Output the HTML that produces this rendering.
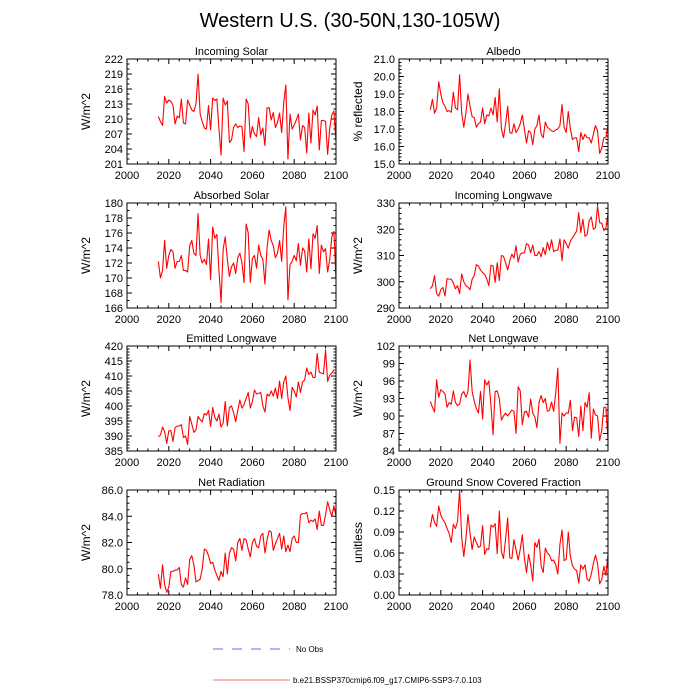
<!DOCTYPE html>
<html><head><meta charset="utf-8"><style>
body{margin:0;background:#fff;}
svg{display:block;font-family:"Liberation Sans",sans-serif;}
</style></head><body>
<svg id="chart" width="700" height="700" viewBox="0 0 700 700">
<text x="350" y="27" text-anchor="middle" font-size="20">Western U.S. (30-50N,130-105W)</text>
<g>
<line x1="213" y1="649" x2="290" y2="649" stroke="#6a6aff" stroke-dasharray="10,9" stroke-width="1"/>
<text x="296" y="652" font-size="8">No Obs</text>
<line x1="213" y1="680" x2="290" y2="680" stroke="#ff7070" stroke-width="1"/>
<text x="293" y="683" font-size="8">b.e21.BSSP370cmip6.f09_g17.CMIP6-SSP3-7.0.103</text>
</g>
</svg>
<script>
const startYear = 2015;
const xTicks = [2000, 2020, 2040, 2060, 2080, 2100];
const incomingSolar = [210.5,209.5,208.7,214.5,213.2,213.8,213.5,212.8,209,210.6,210.2,214,209.2,209,213.8,212.8,211.8,211.5,213,219,211,209.5,208.2,208,212.7,207.8,214.2,213.7,214,208,202.8,214.2,212.8,213.6,205.3,205.8,208.3,209,208.3,208.6,208.5,203.5,214,213,206.2,208.5,207,206.5,210.3,206.8,208.2,204.7,212.2,212.3,209.8,211.3,208.3,209.3,211.2,207.3,213.3,216.8,202,211,208,208.8,209.8,211,205.8,208.7,208.3,203.2,211.2,205.2,211.8,210.8,212.6,203.8,209.7,209.7,209.5,202.9,208.2,210.8,211.6,205.5];
const albedo = [18.1,18.7,17.9,18.2,19.7,19.0,18.5,18.3,18.0,18.05,17.95,19.1,18.2,18.1,20.1,17.9,17.1,17.9,19.0,18.3,17.7,17.65,17.1,17.3,17.4,18.2,17.3,17.8,17.75,18.2,17.8,18.8,17.4,19.3,17.0,16.5,17.3,18.3,16.8,16.75,17.3,16.8,17.0,17.3,17.8,17.0,16.2,16.9,16.8,16.1,17.0,17.2,17.8,16.7,16.5,17.4,17.1,17.0,16.9,16.85,16.95,17.0,17.2,18.4,17.1,16.8,18.0,17.0,16.4,16.5,16.5,15.7,16.8,16.4,16.7,16.5,16.5,16.2,16.7,17.2,16.9,15.6,15.9,16.5,16.5,17.3];
const absorbedSolar = [172.2,170.0,171.0,175.0,171.3,173.0,173.8,173.5,171.3,172.2,172.2,173.0,171.0,171.0,170.8,174.3,175.0,173.3,173.0,178.6,173.0,172.0,172.5,171.8,175.2,169.8,176.8,175.3,175.8,171.0,166.7,173.8,175.5,172.5,170.2,171.5,172.0,170.6,172.7,173.3,172.0,169.4,177.2,176.0,169.4,172.6,173.0,171.3,174.4,173.0,172.5,169.2,174.0,176.4,175.0,174.3,172.7,173.3,175.0,172.2,176.9,179.5,167.1,171.8,172.2,173.0,172.3,174.6,171.7,174.0,173.6,170.8,175.2,171.2,175.9,175.3,177.0,170.6,174.4,173.5,173.9,170.8,172.5,175.5,176.2,169.8];
const incomingLW = [297.3,298.5,302.3,295.5,294.5,297,297.8,294.6,301.2,301,301,299.5,297.3,298.5,295.5,303,300,298.5,298,297,301,302.3,306.5,306,304.5,303.5,302.8,301,298.5,306.3,306,299.8,307.2,300.5,310,309.7,307.2,304.5,308,310.5,309,313.7,307.5,310.5,311,311,314.5,314,311,314,310,310,311.5,309.5,313,310.3,315,312,316,311.5,312,312,316.3,308,316,314.5,312.8,315.5,316.8,318,319.3,326.3,318.8,323.8,317.3,318,323.3,324.7,320,320.5,328.8,322.5,322.3,319.5,320.5,326];
const emittedLW = [389.8,390.3,393,391.5,387.5,391.7,391.8,388.2,392.8,393.3,393.3,393.8,389.5,390,387.2,396.5,394,391.2,392,396.5,395.5,394.7,397.5,397,398.5,393.2,399.5,396.2,395,397.3,393,394.3,401.5,393.3,399.5,400,397.8,394.8,398.5,402,399.3,400.5,402.5,404.5,399.3,401.5,405.3,404,404.2,404.5,400,398,404,403.3,405,403.3,406,402.5,408.3,402.5,408,410,402.8,398.5,406.2,405,403,408,404.5,408,408.7,412.7,410.5,411.3,409.5,409.5,417.5,411.2,411,410.7,418.7,408.2,410.3,411,412,412];
const netLW = [92.5,91.5,90.7,96.2,93.2,94.5,94.2,93.8,91.5,92.3,92.0,94.3,92.3,91.8,92.0,93.8,94.2,93.2,94.2,99.6,94.2,92.5,91.3,90.5,94.2,89.5,96.2,95.3,96.0,91.8,86.8,94.2,94.3,93.0,89.3,90.0,90.5,90.0,90.5,91.0,90.8,87.0,95.0,94.3,88.5,90.7,90.8,89.8,92.9,90.5,89.8,88.0,92.3,93.5,92.3,93.0,90.8,91.0,92.4,90.8,94.0,98.2,85.3,90.5,90.0,90.5,90.5,92.7,87.5,89.8,89.7,86.5,91.7,87.5,92.3,91.5,94.0,86.2,91.2,90.2,90.0,85.8,87.5,91.5,91.5,86];
const netRad = [79.6,78.5,80.3,78.8,78.2,78.6,79.8,79.8,79.9,79.9,80.1,78.8,78.6,79.3,78.8,80.7,81.0,80.3,79.0,79.1,79.2,80.0,81.5,81.4,81.0,80.4,80.5,79.9,79.5,79.1,79.8,79.4,81.2,79.6,81.2,81.6,81.5,80.6,82.0,82.3,81.4,82.3,82.2,81.5,80.9,82.0,82.3,81.7,81.6,82.5,82.7,81.2,82.2,82.9,82.8,81.4,81.9,82.3,82.7,81.5,82.5,81.3,81.8,81.3,82.3,82.5,82.0,82.0,84.1,84.2,84.2,84.3,83.5,83.7,83.6,83.8,83.0,84.4,83.3,83.3,84.1,85.1,84.5,84.0,84.8,84.0];
const snowFrac = [0.097,0.115,0.104,0.098,0.127,0.114,0.108,0.103,0.095,0.088,0.075,0.101,0.095,0.105,0.150,0.082,0.055,0.080,0.115,0.088,0.065,0.083,0.075,0.068,0.070,0.099,0.058,0.066,0.065,0.100,0.097,0.102,0.059,0.120,0.062,0.052,0.080,0.110,0.053,0.052,0.079,0.065,0.050,0.065,0.086,0.053,0.032,0.058,0.043,0.020,0.075,0.068,0.080,0.042,0.032,0.067,0.060,0.057,0.049,0.050,0.043,0.030,0.072,0.093,0.049,0.051,0.090,0.055,0.042,0.037,0.035,0.017,0.043,0.037,0.043,0.023,0.020,0.030,0.045,0.057,0.045,0.016,0.022,0.041,0.028,0.058];
const yTicksSolar = ["201","204","207","210","213","216","219","222"];
const yTicksAlbedo = ["15.0","16.0","17.0","18.0","19.0","20.0","21.0"];
const yTicksAbs = ["166","168","170","172","174","176","178","180"];
const yTicksILW = ["290","300","310","320","330"];
const yTicksELW = ["385","390","395","400","405","410","415","420"];
const yTicksNLW = ["84","87","90","93","96","99","102"];
const yTicksNR = ["78.0","80.0","82.0","84.0","86.0"];
const yTicksSnow = ["0.00","0.03","0.06","0.09","0.12","0.15"];

const panels = [
 {name:'incoming-solar', title:'Incoming Solar', ylab:'W/m^2', data:incomingSolar, ticks:yTicksSolar, minor:2, col:0, row:0},
 {name:'albedo', title:'Albedo', ylab:'% reflected', data:albedo, ticks:yTicksAlbedo, minor:4, col:1, row:0},
 {name:'absorbed-solar', title:'Absorbed Solar', ylab:'W/m^2', data:absorbedSolar, ticks:yTicksAbs, minor:1, col:0, row:1},
 {name:'incoming-longwave', title:'Incoming Longwave', ylab:'W/m^2', data:incomingLW, ticks:yTicksILW, minor:4, col:1, row:1},
 {name:'emitted-longwave', title:'Emitted Longwave', ylab:'W/m^2', data:emittedLW, ticks:yTicksELW, minor:4, col:0, row:2},
 {name:'net-longwave', title:'Net Longwave', ylab:'W/m^2', data:netLW, ticks:yTicksNLW, minor:2, col:1, row:2},
 {name:'net-radiation', title:'Net Radiation', ylab:'W/m^2', data:netRad, ticks:yTicksNR, minor:3, col:0, row:3},
 {name:'snow-fraction', title:'Ground Snow Covered Fraction', ylab:'unitless', data:snowFrac, ticks:yTicksSnow, minor:2, col:1, row:3}
];
const NS='http://www.w3.org/2000/svg';
const svg=document.getElementById('chart');
function mk(tag, attrs, parent){const e=document.createElementNS(NS,tag);for(const k in attrs)e.setAttribute(k,attrs[k]);parent.appendChild(e);return e;}
const colX=[127,399], rowY=[59,203,346,490], W=209, H=105;
panels.forEach(p=>{
  const x0=colX[p.col], y0=rowY[p.row];
  const g=mk('g',{},svg);
  
  
  const ymin=parseFloat(p.ticks[0]), ymax=parseFloat(p.ticks[p.ticks.length-1]);
  const xs=v=>x0+(v-2000)/100*W;
  const ys=v=>y0+H-(v-ymin)/(ymax-ymin)*H;
  // ticks
  let d='';
  const step=(ymax-ymin)/(p.ticks.length-1);
  for(let i=0;i<p.ticks.length;i++){
    const v=parseFloat(p.ticks[i]); const y=ys(v);
    d+=`M${x0} ${y}h5M${x0+W} ${y}h-5`;
    if(i<p.ticks.length-1){for(let m=1;m<=p.minor;m++){const yy=ys(v+step*m/(p.minor+1));d+=`M${x0} ${yy}h2.5M${x0+W} ${yy}h-2.5`;}}
  }
  for(let yr=2000;yr<=2100;yr+=5){const x=xs(yr);const L=(yr%20==0)?5:2.5;d+=`M${x} ${y0+H}v${-L}M${x} ${y0}v${L}`;}
  const tk=mk('path',{d:d,stroke:'#000','stroke-width':1,fill:'none'},g);
  
  
  p.ticks.forEach(t=>{
    const tl=mk('text',{x:x0-4,y:ys(parseFloat(t))+4,'text-anchor':'end','font-size':11},g);tl.textContent=t;
    
    
  });
  xTicks.forEach(t=>{
    const tl=mk('text',{x:xs(t),y:y0+H+15,'text-anchor':'middle','font-size':11},g);tl.textContent=t;
    
    
  });
  const tt=mk('text',{x:x0+W/2,y:y0-4,'text-anchor':'middle','font-size':11},g);tt.textContent=p.title;
  
  
  const yl=mk('text',{x:0,y:0,'text-anchor':'middle','font-size':12,transform:`translate(${x0-37},${y0+H/2}) rotate(-90)`},g);yl.textContent=p.ylab;
  
  
  const pts=p.data.map((v,i)=>`${xs(startYear+i).toFixed(2)},${ys(v).toFixed(2)}`).join(' ');
  const ln=mk('polyline',{points:pts,fill:'none',stroke:'#ff0000','stroke-width':1.1,'stroke-linejoin':'round'},g);
  
  
  const fr=mk('rect',{x:x0,y:y0,width:W,height:H,fill:'none',stroke:'#000','stroke-width':1},g);
  
  
});
</script>
</body></html>
